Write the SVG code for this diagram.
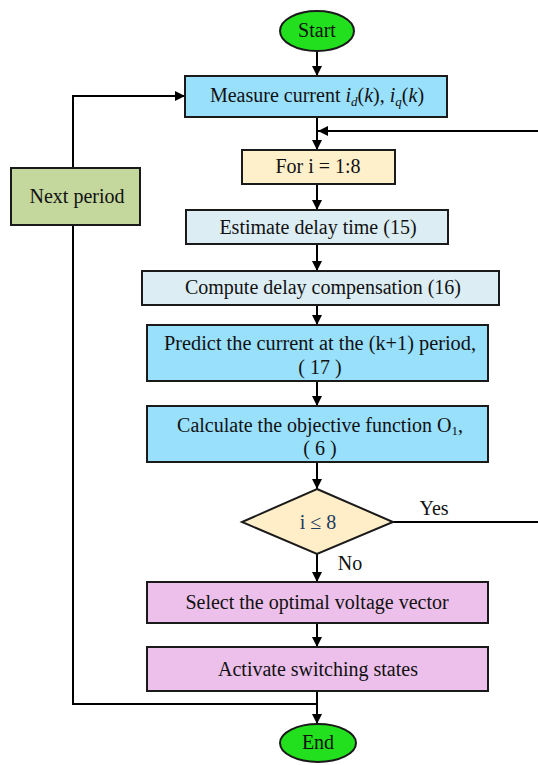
<svg xmlns="http://www.w3.org/2000/svg" width="538" height="765" viewBox="0 0 538 765" font-family="'Liberation Serif', serif">
<defs>
<marker id="ah" viewBox="0 0 10 10" refX="10" refY="5" markerWidth="5" markerHeight="5" orient="auto" markerUnits="strokeWidth">
<path d="M0,0 L10,5 L0,10 z" fill="#000"/>
</marker>
<style>
.n{stroke:#1a1a1a;stroke-width:2}
.t{font-family:'Liberation Serif',serif;font-size:20px;fill:#111;text-anchor:middle}
.c{fill:none;stroke:#000;stroke-width:2}
.a{marker-end:url(#ah)}
</style>
</defs>
<rect width="538" height="765" fill="#fff"/>
<g id="connectors">
<line class="c a" x1="317" y1="51" x2="317" y2="76"/>
<line class="c a" x1="317" y1="117" x2="317" y2="150"/>
<line class="c a" x1="317" y1="184" x2="317" y2="210"/>
<line class="c a" x1="317" y1="244" x2="317" y2="271"/>
<line class="c a" x1="317" y1="305" x2="317" y2="325"/>
<line class="c a" x1="317" y1="381" x2="317" y2="406"/>
<line class="c a" x1="317" y1="462" x2="317" y2="489"/>
<line class="c a" x1="317" y1="554" x2="317" y2="582"/>
<line class="c a" x1="317" y1="623" x2="317" y2="647"/>
<line class="c a" x1="317" y1="691" x2="317" y2="724"/>
<polyline class="c" points="393,522 540,522 540,131 330,131"/>
<line class="c a" x1="330" y1="131" x2="318" y2="131"/>
<polyline class="c" points="317,704 73,704 73,96 175,96"/>
<line class="c a" x1="170" y1="96" x2="185" y2="96"/>
<text class="t" x="434" y="515">Yes</text>
<text class="t" x="350" y="570">No</text>
</g>
<g id="start">
<ellipse class="n" cx="317" cy="31" rx="37" ry="20" fill="#22e01e"/>
<text class="t" x="317" y="37">Start</text>
</g>
<g id="measure">
<rect class="n" x="185" y="76" width="262" height="41" fill="#99e0fd"/>
<text class="t" x="317" y="102">Measure current <tspan font-style="italic">i</tspan><tspan font-style="italic" font-size="13" dy="4">d</tspan><tspan dy="-4">(</tspan><tspan font-style="italic">k</tspan>), <tspan font-style="italic">i</tspan><tspan font-style="italic" font-size="13" dy="4">q</tspan><tspan dy="-4">(</tspan><tspan font-style="italic">k</tspan>)</text>
</g>
<g id="for">
<rect class="n" x="242" y="150" width="153" height="34" fill="#fff0cc"/>
<text class="t" x="318" y="173">For i = 1:8</text>
</g>
<g id="next">
<rect class="n" x="11" y="168" width="129" height="57" fill="#c4d79d"/>
<text class="t" x="77" y="203">Next period</text>
</g>
<g id="estimate">
<rect class="n" x="186" y="210" width="262" height="34" fill="#dcedf4"/>
<text class="t" x="318" y="234">Estimate delay time (15)</text>
</g>
<g id="compute">
<rect class="n" x="142" y="271" width="357" height="34" fill="#dcedf4"/>
<text class="t" x="323" y="294">Compute delay compensation (16)</text>
</g>
<g id="predict">
<rect class="n" x="147" y="325" width="341" height="56" fill="#99e0fd"/>
<text class="t" x="320" y="350" textLength="312" lengthAdjust="spacingAndGlyphs">Predict the current at the (k+1) period,</text>
<text class="t" x="320" y="374">( 17 )</text>
</g>
<g id="calculate">
<rect class="n" x="147" y="406" width="341" height="56" fill="#99e0fd"/>
<text class="t" x="320" y="432">Calculate the objective function O<tspan font-size="13" dy="3">1</tspan><tspan dy="-3">,</tspan></text>
<text class="t" x="320" y="455">( 6 )</text>
</g>
<g id="decision">
<polygon class="n" points="317,489 393,522 317,554 242,522" fill="#ffeec8"/>
<text class="t" x="318" y="529" style="fill:#1f3a5f">i  ≤ 8</text>
</g>
<g id="select">
<rect class="n" x="147" y="582" width="341" height="41" fill="#ecc0ea"/>
<text class="t" x="317" y="609">Select the optimal voltage vector</text>
</g>
<g id="activate">
<rect class="n" x="147" y="647" width="341" height="44" fill="#ecc0ea"/>
<text class="t" x="318" y="676">Activate switching states</text>
</g>
<g id="end">
<ellipse class="n" cx="318" cy="743" rx="38" ry="19" fill="#22e01e"/>
<text class="t" x="318" y="749">End</text>
</g>
</svg>
